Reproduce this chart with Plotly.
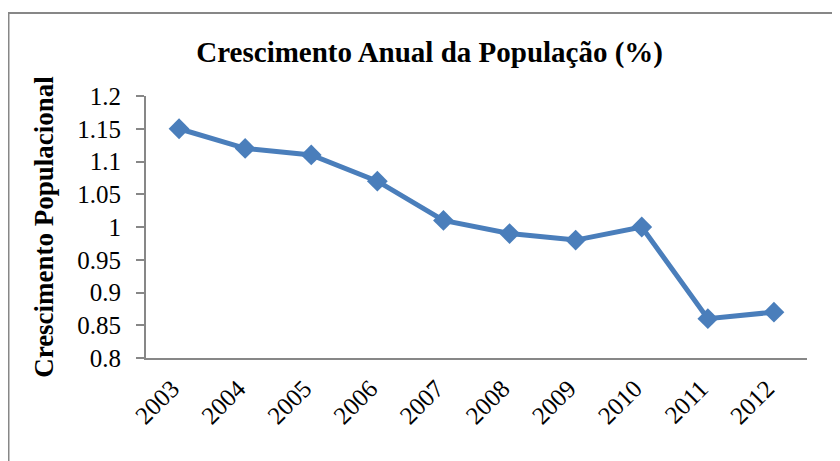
import plotly.graph_objects as go

years = ["2003", "2004", "2005", "2006", "2007", "2008", "2009", "2010", "2011", "2012"]
growth = [1.15, 1.12, 1.11, 1.07, 1.01, 0.99, 0.98, 1.00, 0.86, 0.87]
y_ticks = [0.8, 0.85, 0.9, 0.95, 1.0, 1.05, 1.1, 1.15, 1.2]
y_tick_text = ["0.8", "0.85", "0.9", "0.95", "1", "1.05", "1.1", "1.15", "1.2"]

font_family = "Liberation Serif"
axis_color = "#878787"

fig = go.Figure(go.Scatter(
    x=years, y=growth, mode="lines+markers",
    line=dict(color="#4a7ebb", width=5),
    marker=dict(symbol="diamond", size=16, color="#4a7ebb"),
))

fig.update_layout(
    width=840, height=461,
    margin=dict(l=138, r=41, t=88, b=111),
    paper_bgcolor="white", plot_bgcolor="white",
    showlegend=False,
    font=dict(family=font_family, color="black", size=25),
    title=dict(text="<b>Crescimento Anual da População (%)</b>",
               x=0.502, xanchor="center", y=0.905, yanchor="middle",
               font=dict(family=font_family, size=29, color="black")),
    xaxis=dict(type="category", showgrid=False, showline=True, linecolor=axis_color,
               linewidth=2, ticks="", tickangle=-45, range=[-0.5, 9.5],
               ticklabelstandoff=4, ticklabelshift=-7,
               tickfont=dict(family=font_family, size=25)),
    yaxis=dict(range=[0.8, 1.2], tickvals=y_ticks, ticktext=y_tick_text,
               showgrid=False, showline=True, linecolor=axis_color, linewidth=2,
               ticks="outside", ticklen=8, tickcolor=axis_color, tickwidth=2,
               zeroline=False, ticklabelstandoff=10,
               tickfont=dict(family=font_family, size=25),
               title=dict(text="<b>Crescimento Populacional</b>", standoff=16,
                          font=dict(family=font_family, size=27))),
    shapes=[dict(type="rect", xref="paper", yref="paper",
                 x0=(0.5 - 138) / 661, x1=1.2, y0=-0.6, y1=(350 - 5) / 262,
                 line=dict(color=axis_color, width=2), fillcolor="rgba(0,0,0,0)",
                 layer="below")],
)

fig.write_html("out.html")
